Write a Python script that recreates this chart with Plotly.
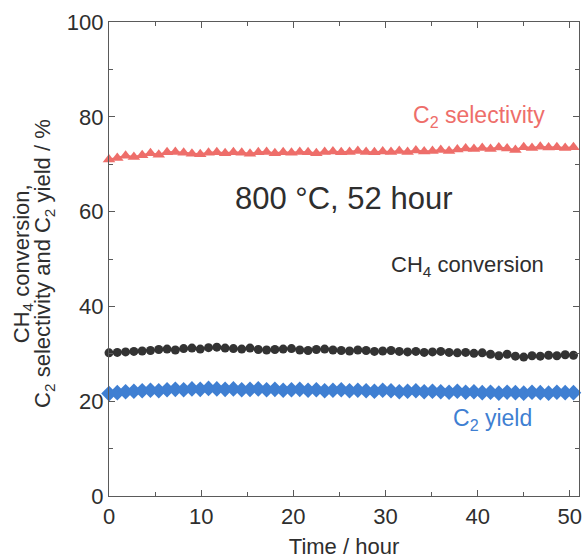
import plotly.graph_objects as go

time_h = [0, 0.9, 1.8, 2.7, 3.6, 4.5, 5.4, 6.3, 7.2, 8.1, 9.0, 9.9, 10.8, 11.7, 12.6,
          13.5, 14.4, 15.3, 16.2, 17.1, 18.0, 18.9, 19.8, 20.7, 21.6, 22.5, 23.4, 24.3,
          25.2, 26.1, 27.0, 27.9, 28.8, 29.7, 30.6, 31.5, 32.4, 33.3, 34.2, 35.1, 36.0,
          36.9, 37.8, 38.7, 39.6, 40.5, 41.4, 42.3, 43.2, 44.1, 45.0, 45.9, 46.8, 47.7,
          48.6, 49.5, 50.4]

c2_selectivity = [71.0, 71.3, 71.8, 71.5, 71.9, 72.3, 72.0, 72.5, 72.6, 72.4,
                  72.2, 72.1, 72.4, 72.5, 72.3, 72.5, 72.4, 72.2, 72.5, 72.6,
                  72.3, 72.5, 72.4, 72.6, 72.5, 72.3, 72.6, 72.7, 72.5, 72.6,
                  72.8, 72.6, 72.5, 72.7, 72.6, 72.8, 72.6, 72.9, 72.7, 72.8,
                  73.0, 72.8, 73.1, 73.3, 73.2, 73.4, 73.2, 73.5, 73.3, 73.0,
                  73.6, 73.4, 73.7, 73.5, 73.6, 73.4, 73.6]

ch4_conversion = [30.2, 30.3, 30.4, 30.5, 30.6, 30.7, 30.9, 31.0, 30.8, 31.1,
                  31.2, 31.0, 31.3, 31.4, 31.2, 31.1, 31.0, 31.2, 30.9, 30.8,
                  30.9, 31.0, 31.1, 30.8, 30.7, 30.9, 31.0, 30.8, 30.7, 30.6,
                  30.8, 30.7, 30.5, 30.6, 30.7, 30.5, 30.4, 30.5, 30.3, 30.4,
                  30.5, 30.3, 30.2, 30.3, 30.1, 30.2, 29.9, 29.6, 29.9, 29.5,
                  29.3, 29.6, 29.5, 29.7, 29.6, 29.8, 29.7]

c2_yield = [21.6, 21.8, 22.0, 22.1, 22.2, 22.3, 22.2, 22.4, 22.5, 22.4,
            22.6, 22.5, 22.7, 22.6, 22.5, 22.6, 22.4, 22.5, 22.6, 22.4,
            22.5, 22.3, 22.4, 22.5, 22.3, 22.4, 22.2, 22.3, 22.4, 22.2,
            22.3, 22.2, 22.1, 22.3, 22.2, 22.0, 22.1, 22.2, 22.0, 22.1,
            22.0, 21.9, 22.1, 21.9, 22.0, 21.8, 21.9, 21.7, 21.9, 21.8,
            21.7, 21.9, 21.8, 21.7, 21.9, 21.8, 21.8]

x_ticks = [0, 10, 20, 30, 40, 50]
y_ticks = [0, 20, 40, 60, 80, 100]

RED = "#ee6e6a"
BLACK = "#333333"
BLUE = "#3f7fd2"
TXT = "#2e2e2e"
FONT = "Liberation Sans, Arial, sans-serif"

fig = go.Figure()
fig.add_trace(go.Scatter(x=time_h, y=c2_selectivity, mode="lines+markers",
                         line=dict(color=RED, width=2),
                         marker=dict(symbol="triangle-up", size=11, color=RED),
                         cliponaxis=False, showlegend=False))
fig.add_trace(go.Scatter(x=time_h, y=ch4_conversion, mode="lines+markers",
                         line=dict(color=BLACK, width=2),
                         marker=dict(symbol="circle", size=9, color=BLACK),
                         cliponaxis=False, showlegend=False))
fig.add_trace(go.Scatter(x=time_h, y=c2_yield, mode="lines+markers",
                         line=dict(color=BLUE, width=2),
                         marker=dict(symbol="diamond", size=12, color=BLUE),
                         cliponaxis=False, showlegend=False))

fig.add_annotation(x=40.2, y=80.0, text="C<sub>2</sub> selectivity", showarrow=False,
                   font=dict(size=23, color=RED, family=FONT), xanchor="center", yanchor="middle")
fig.add_annotation(x=25.4, y=62.7, text="800 °C, 52 hour", showarrow=False,
                   font=dict(size=31, color=TXT, family=FONT), xanchor="center", yanchor="middle")
fig.add_annotation(x=38.9, y=48.6, text="CH<sub>4</sub> conversion", showarrow=False,
                   font=dict(size=22, color=TXT, family=FONT), xanchor="center", yanchor="middle")
fig.add_annotation(x=41.6, y=16.2, text="C<sub>2</sub> yield", showarrow=False,
                   font=dict(size=23, color=BLUE, family=FONT), xanchor="center", yanchor="middle")

# two-line y-axis title, drawn as rotated paper annotations for tighter line spacing
fig.add_annotation(xref="paper", yref="paper", x=-0.184, y=0.49, text="CH<sub>4</sub> conversion,",
                   textangle=-90, showarrow=False, xanchor="center", yanchor="middle",
                   font=dict(size=22, color=TXT, family=FONT))
fig.add_annotation(xref="paper", yref="paper", x=-0.138, y=0.49,
                   text="C<sub>2</sub> selectivity and C<sub>2</sub> yield / %",
                   textangle=-90, showarrow=False, xanchor="center", yanchor="middle",
                   font=dict(size=22, color=TXT, family=FONT))

axis_common = dict(showgrid=False, zeroline=False, showline=True, linecolor="#5a5a5a",
                   linewidth=1.2, mirror="ticks", ticks="inside", ticklen=6,
                   tickcolor="#5a5a5a", tickfont=dict(size=22, color=TXT, family=FONT))

fig.update_xaxes(range=[0, 51], tickvals=x_ticks,
                 minor=dict(tickvals=[5, 15, 25, 35, 45], ticklen=4, ticks="inside",
                            tickcolor="#5a5a5a"),
                 title=dict(text="Time / hour", font=dict(size=22, color=TXT, family=FONT),
                            standoff=11),
                 **axis_common)
fig.update_yaxes(range=[0, 100], tickvals=y_ticks,
                 minor=dict(tickvals=[10, 30, 50, 70, 90], ticklen=4, ticks="inside",
                            tickcolor="#5a5a5a"),
                 **axis_common)

fig.update_layout(width=587, height=560, margin=dict(l=109, r=5, t=22, b=63),
                  plot_bgcolor="white", paper_bgcolor="white",
                  font=dict(family=FONT))

fig.write_html("out.html")
